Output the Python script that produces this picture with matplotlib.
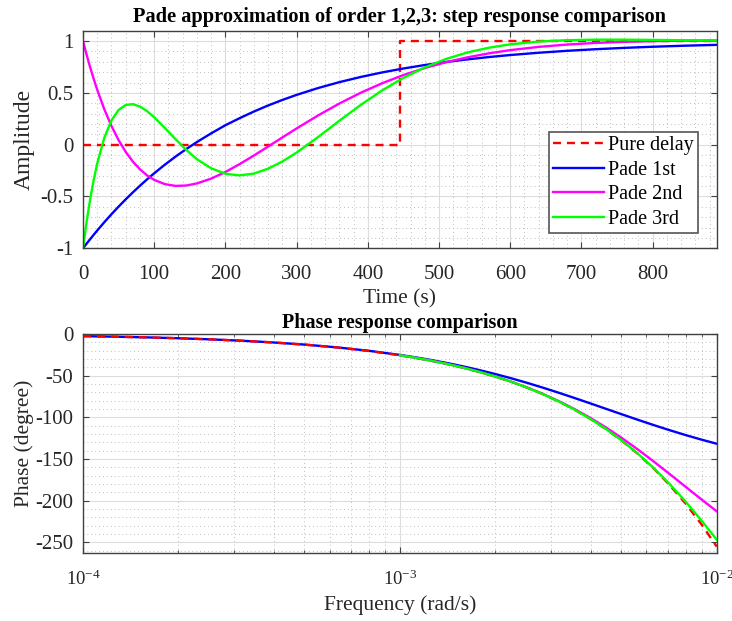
import matplotlib
matplotlib.use("Agg")
import matplotlib.pyplot as plt
from matplotlib.ticker import MultipleLocator, LogLocator, NullFormatter, FixedLocator

# ---------------- data ----------------
time_s = [0, 5, 10, 15, 20, 30, 40, 50, 60, 70, 80, 90, 100, 115, 130, 145, 160, 180, 200,
          220, 240, 260, 280, 300, 330, 360, 390, 420, 450, 480, 510, 540, 570, 600, 640,
          680, 720, 760, 800, 845, 890]
step_pade1 = [-1, -0.9556, -0.9121, -0.8696, -0.8281, -0.7477, -0.6709, -0.5975, -0.5273,
              -0.4602, -0.3960, -0.3346, -0.2760, -0.1928, -0.1150, -0.0423, 0.0256, 0.1094,
              0.1878, 0.2559, 0.3199, 0.3784, 0.4318, 0.4806, 0.5462, 0.6034, 0.6534, 0.6971,
              0.7353, 0.7687, 0.7979, 0.8234, 0.8457, 0.8651, 0.8873, 0.9059, 0.9214, 0.9343,
              0.9451, 0.9552, 0.9634]
step_pade2 = [1, 0.8697, 0.7480, 0.6346, 0.5292, 0.3406, 0.1796, 0.0436, -0.0699, -0.1630,
              -0.2378, -0.2961, -0.3398, -0.3810, -0.3978, -0.3941, -0.3741, -0.3273, -0.2634,
              -0.1875, -0.1047, -0.0182, 0.0700, 0.1567, 0.2816, 0.3970, 0.5009, 0.5926,
              0.6719, 0.7395, 0.7963, 0.8432, 0.8815, 0.9124, 0.9439, 0.9664, 0.9820, 0.9925,
              0.9991, 1.0034, 1.0054]
step_pade3 = [-1, -0.748, -0.5293, -0.341, -0.1802, 0.0685, 0.2350, 0.3352, 0.3833, 0.3909,
              0.3682, 0.3236, 0.2645, 0.1610, 0.0528, -0.0507, -0.1402, -0.2281, -0.2809,
              -0.2964, -0.2790, -0.2315, -0.1623, -0.0763, 0.0726, 0.2305, 0.3834, 0.5232,
              0.6447, 0.7457, 0.8275, 0.8903, 0.9358, 0.9683, 0.9952, 1.0085, 1.0134, 1.0134,
              1.0110, 1.0076, 1.0044]
delay_t = [0, 445, 445, 890]
delay_y = [0, 0, 1, 1]

freq_full = [1.0e-4, 1.259e-4, 1.585e-4, 1.995e-4, 2.512e-4, 3.162e-4, 3.981e-4, 5.012e-4,
             6.310e-4, 7.943e-4, 1.0e-3, 1.122e-3, 1.259e-3, 1.413e-3, 1.585e-3, 1.778e-3,
             1.995e-3, 2.239e-3, 2.512e-3, 2.818e-3, 3.162e-3, 3.548e-3, 3.981e-3, 4.467e-3,
             5.012e-3, 5.623e-3, 6.310e-3, 7.079e-3, 7.943e-3, 8.913e-3, 1.0e-2]
phase_delay = [-2.550, -3.210, -4.041, -5.087, -6.405, -8.063, -10.150, -12.779, -16.088,
               -20.253, -25.497, -28.607, -32.098, -36.014, -40.410, -45.341, -50.874, -57.079,
               -64.045, -71.860, -80.628, -90.465, -101.505, -113.889, -127.787, -143.378,
               -160.874, -180.504, -202.528, -227.238, -254.966]
phase_pade1 = [-2.549, -3.209, -4.039, -5.084, -6.398, -8.049, -10.124, -12.726, -15.983,
               -20.046, -25.088, -28.034, -31.296, -34.894, -38.849, -43.174, -47.878, -52.957,
               -58.402, -64.183, -70.261, -76.579, -83.069, -89.647, -96.232, -102.734,
               -109.075, -115.182, -120.997, -126.478, -131.598]
freq_hi = [1.0e-3, 1.122e-3, 1.259e-3, 1.413e-3, 1.585e-3, 1.778e-3, 1.995e-3, 2.239e-3,
           2.512e-3, 2.818e-3, 3.162e-3, 3.548e-3, 3.981e-3, 4.467e-3, 5.012e-3, 5.623e-3,
           6.310e-3, 7.079e-3, 7.943e-3, 8.913e-3, 1.0e-2]
phase_pade2 = [-25.495, -28.605, -32.093, -36.006, -40.396, -45.317, -50.832, -57.006,
               -63.917, -71.636, -80.239, -89.796, -100.366, -111.971, -124.600, -138.170,
               -152.538, -167.470, -182.672, -197.815, -212.580]
phase_pade3 = [-25.497, -28.607, -32.098, -36.014, -40.410, -45.341, -50.874, -57.079,
               -64.045, -71.857, -80.622, -90.452, -101.477, -113.829, -127.659, -143.107,
               -160.308, -179.345, -200.217, -222.770, -246.657]

# ---------------- style ----------------
plt.rcParams['font.family'] = ['Liberation Serif', 'DejaVu Serif']
plt.rcParams['mathtext.fontset'] = 'custom'
plt.rcParams['mathtext.rm'] = 'Liberation Serif'
plt.rcParams['mathtext.it'] = 'Liberation Serif:italic'
plt.rcParams['axes.unicode_minus'] = False

AX_COL = '#404040'
TXT_COL = '#262626'
RED, BLUE, MAG, GRN = '#ff0000', '#0000ff', '#ff00ff', '#00ff00'
LW = 1.7
DASH = (3.4, 2.5)

fig = plt.figure(figsize=(7.32, 6.21), dpi=100)
W, H = 732, 621
ax1 = fig.add_axes([83 / W, 1 - 248.3 / H, 633.7 / W, 217.6 / H])
ax2 = fig.add_axes([83 / W, 1 - 553.3 / H, 633.7 / W, 219.3 / H])


def style(ax):
    for sp in ax.spines.values():
        sp.set_color(AX_COL)
        sp.set_linewidth(1.0)
    ax.tick_params(which='major', direction='in', length=4.5, width=0.8, color=AX_COL,
                   labelcolor=TXT_COL, labelsize=15, top=True, right=True, pad=7)
    ax.grid(True, which='major', color='#dcdcdc', linestyle='-', linewidth=0.8)
    ax.grid(True, which='minor', color='#bdbdbd', linestyle=(0, (1, 3)), linewidth=0.7)
    ax.set_axisbelow(True)


# ---- top: step responses ----
ax1.plot(delay_t, delay_y, color=RED, lw=LW, dashes=DASH, label='Pure delay')
ax1.plot(time_s, step_pade1, color=BLUE, lw=LW, label='Pade 1st')
ax1.plot(time_s, step_pade2, color=MAG, lw=LW, label='Pade 2nd')
ax1.plot(time_s, step_pade3, color=GRN, lw=LW, label='Pade 3rd')
ax1.set_xlim(0, 890)
ax1.set_ylim(-1, 1.1)
ax1.xaxis.set_major_locator(MultipleLocator(100))
ax1.xaxis.set_minor_locator(MultipleLocator(20))
ax1.yaxis.set_major_locator(FixedLocator([-1, -0.5, 0, 0.5, 1]))
ax1.yaxis.set_minor_locator(MultipleLocator(0.1))
ax1.set_yticklabels(['-1', '-0.5', '0', '0.5', '1'])
style(ax1)
ax1.tick_params(which='minor', length=0)
ax1.tick_params(axis='x', which='major', pad=12)
ax1.set_title('Pade approximation of order 1,2,3: step response comparison',
              fontsize=14.7, fontweight='bold', color='black', pad=6)
ax1.set_xlabel('Time (s)', fontsize=15.5, color=TXT_COL, labelpad=4)
ax1.set_ylabel('Amplitude', fontsize=17, color=TXT_COL, labelpad=4)
leg = ax1.legend(loc='lower right', bbox_to_anchor=(0.9705, 0.07), fontsize=14.5,
                 frameon=True, fancybox=False, edgecolor='#555555', framealpha=1,
                 handlelength=2.5, handletextpad=0.2, borderpad=0.22, labelspacing=0.27,
                 borderaxespad=0)
leg.get_frame().set_linewidth(1.2)

# ---- bottom: phase ----
ax2.semilogx(freq_full, phase_pade1, color=BLUE, lw=LW, zorder=2)
ax2.semilogx(freq_full, phase_delay, color=RED, lw=LW, dashes=DASH, zorder=2.5)
ax2.semilogx(freq_hi, phase_pade2, color=MAG, lw=LW, zorder=3)
ax2.semilogx(freq_hi, phase_pade3, color=GRN, lw=LW, zorder=3.5)
ax2.set_xlim(1e-4, 1e-2)
ax2.set_ylim(-263, 0)
ax2.xaxis.set_major_locator(FixedLocator([1e-4, 1e-3, 1e-2]))
ax2.set_xticklabels([r'$10^{-4}$', r'$10^{-3}$', r'$10^{-2}$'])
ax2.xaxis.set_minor_locator(LogLocator(base=10, subs=range(2, 10)))
ax2.xaxis.set_minor_formatter(NullFormatter())
ax2.yaxis.set_major_locator(MultipleLocator(50))
ax2.yaxis.set_minor_locator(MultipleLocator(10))
style(ax2)
ax2.tick_params(axis='x', which='minor', direction='in', length=2.5, width=0.6,
                color=AX_COL, top=True)
ax2.tick_params(axis='y', which='minor', length=0)
ax2.tick_params(axis='x', which='major', pad=12, labelsize=13.5)
ax2.set_title('Phase response comparison', fontsize=14.5, fontweight='bold',
              color='black', pad=4)
ax2.set_xlabel('Frequency (rad/s)', fontsize=15.5, color=TXT_COL, labelpad=4)
ax2.set_ylabel('Phase (degree)', fontsize=15.5, color=TXT_COL, labelpad=1)

fig.savefig('out.png', dpi=100, facecolor='white')
